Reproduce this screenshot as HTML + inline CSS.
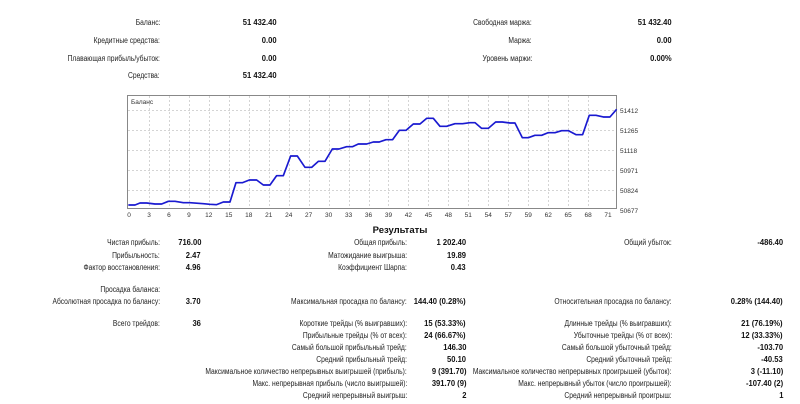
<!DOCTYPE html>
<html><head><meta charset="utf-8"><style>
body{margin:0;width:800px;height:404px;background:#fff;position:relative;overflow:hidden;font-family:"Liberation Sans","DejaVu Sans",sans-serif;font-size:8px;color:#222}
.t{position:absolute;white-space:nowrap;line-height:10px;transform:scaleX(0.84);transform-origin:right center}
.b{font-weight:bold;color:#111;transform:scaleX(0.95)}
</style></head><body>
<div class="t" style="right:640px;top:18px">Баланс:</div><div class="t b" style="right:523px;top:18px">51 432.40</div>
<div class="t" style="right:640px;top:36px">Кредитные средства:</div><div class="t b" style="right:523px;top:36px">0.00</div>
<div class="t" style="right:640px;top:54px">Плавающая прибыль/убыток:</div><div class="t b" style="right:523px;top:54px">0.00</div>
<div class="t" style="right:640px;top:71px">Средства:</div><div class="t b" style="right:523px;top:71px">51 432.40</div>
<div class="t" style="right:268px;top:18px">Свободная маржа:</div><div class="t b" style="right:128px;top:18px">51 432.40</div>
<div class="t" style="right:268px;top:36px">Маржа:</div><div class="t b" style="right:128px;top:36px">0.00</div>
<div class="t" style="right:268px;top:54px">Уровень маржи:</div><div class="t b" style="right:128px;top:54px">0.00%</div>

<svg style="position:absolute;left:0;top:0" width="800" height="230">
<rect x="127.5" y="95.5" width="489" height="113" fill="#fff" stroke="#888"/>
<g stroke="#d4d4d4" stroke-dasharray="2,2" stroke-width="1">
<line x1="128" x2="616" y1="110.5" y2="110.5"/><line x1="128" x2="616" y1="130.5" y2="130.5"/><line x1="128" x2="616" y1="150.5" y2="150.5"/><line x1="128" x2="616" y1="170.5" y2="170.5"/><line x1="128" x2="616" y1="190.5" y2="190.5"/>
</g>
<g stroke="#d4d4d4" stroke-dasharray="2,2" id="vg"></g>
<g transform="translate(120,90) scale(0.3333)">
<polyline fill="none" stroke="#1a1ad0" stroke-width="5" stroke-linejoin="round" points="25,345 45,345 60,339 80,339 105,342 125,342 145,334 165,334 190,338 210,338 250,341 270,343 290,344 310,336 330,336 348,278 368,278 388,270 410,270 430,285 450,285 470,257 490,257 512,198 532,198 555,232 575,232 595,214 615,214 637,177 657,177 680,170 698,170 715,162 740,162 760,156 778,156 798,149 818,149 838,121 858,121 880,102 900,102 920,85 940,85 960,109 980,109 1005,101 1028,101 1050,98 1065,98 1085,115 1105,115 1127,96 1147,96 1170,99 1185,99 1207,143 1225,143 1245,136 1265,136 1285,128 1305,128 1325,122 1345,122 1368,134 1388,134 1408,76 1428,76 1450,81 1470,81 1490,58"/>
</g>
<text x="131" y="104" font-size="6.5" fill="#333" font-family="Liberation Sans,sans-serif">Баланс</text>
<g font-size="6.5" fill="#333" font-family="Liberation Sans,sans-serif">
<text x="620" y="113">51412</text><text x="620" y="133">51265</text><text x="620" y="153">51118</text><text x="620" y="173">50971</text><text x="620" y="193">50824</text><text x="620" y="213">50677</text>
</g>
<g font-size="6.5" fill="#333" font-family="Liberation Sans,sans-serif" text-anchor="middle" id="xl"></g>
</svg>
<script>
var lb=[0,3,6,9,12,15,18,21,24,27,30,33,36,39,42,45,48,51,54,57,59,62,65,68,71],xl=document.getElementById('xl'),vg=document.getElementById('vg'),s='',g='';
lb.forEach(function(v,i){var x=129+i*19.96;s+='<text x="'+x.toFixed(1)+'" y="217">'+v+'</text>';if(i>0&&i<24)g+='<line x1="'+(Math.round(x)+.5)+'" x2="'+(Math.round(x)+.5)+'" y1="96" y2="208"/>';});
xl.innerHTML=s;vg.innerHTML=g;
</script>

<div class="t b" style="left:0;width:800px;text-align:center;top:226px;font-size:9.5px;transform:none">Результаты</div>
<div class="t" style="right:640px;top:238px">Чистая прибыль:</div><div class="t b" style="right:599px;top:238px">716.00</div>
<div class="t" style="right:640px;top:251px">Прибыльность:</div><div class="t b" style="right:599px;top:251px">2.47</div>
<div class="t" style="right:640px;top:263px">Фактор восстановления:</div><div class="t b" style="right:599px;top:263px">4.96</div>
<div class="t" style="right:640px;top:285px">Просадка баланса:</div>
<div class="t" style="right:640px;top:297px">Абсолютная просадка по балансу:</div><div class="t b" style="right:599px;top:297px">3.70</div>
<div class="t" style="right:640px;top:319px">Всего трейдов:</div><div class="t b" style="right:599px;top:319px">36</div>

<div class="t" style="right:393px;top:238px">Общая прибыль:</div><div class="t b" style="right:334px;top:238px">1 202.40</div>
<div class="t" style="right:393px;top:251px">Матожидание выигрыша:</div><div class="t b" style="right:334px;top:251px">19.89</div>
<div class="t" style="right:393px;top:263px">Коэффициент Шарпа:</div><div class="t b" style="right:334px;top:263px">0.43</div>
<div class="t" style="right:393px;top:297px">Максимальная просадка по балансу:</div><div class="t b" style="right:334px;top:297px">144.40 (0.28%)</div>
<div class="t" style="right:393px;top:319px">Короткие трейды (% выигравших):</div><div class="t b" style="right:334px;top:319px">15 (53.33%)</div>
<div class="t" style="right:393px;top:331px">Прибыльные трейды (% от всех):</div><div class="t b" style="right:334px;top:331px">24 (66.67%)</div>
<div class="t" style="right:393px;top:343px">Самый большой прибыльный трейд:</div><div class="t b" style="right:334px;top:343px">146.30</div>
<div class="t" style="right:393px;top:355px">Средний прибыльный трейд:</div><div class="t b" style="right:334px;top:355px">50.10</div>
<div class="t" style="right:393px;top:367px">Максимальное количество непрерывных выигрышей (прибыль):</div><div class="t b" style="right:334px;top:367px">9 (391.70)</div>
<div class="t" style="right:393px;top:379px">Макс. непрерывная прибыль (число выигрышей):</div><div class="t b" style="right:334px;top:379px">391.70 (9)</div>
<div class="t" style="right:393px;top:391px">Средний непрерывный выигрыш:</div><div class="t b" style="right:334px;top:391px">2</div>

<div class="t" style="right:128px;top:238px">Общий убыток:</div><div class="t b" style="right:17px;top:238px">-486.40</div>
<div class="t" style="right:128px;top:297px">Относительная просадка по балансу:</div><div class="t b" style="right:17px;top:297px">0.28% (144.40)</div>
<div class="t" style="right:128px;top:319px">Длинные трейды (% выигравших):</div><div class="t b" style="right:17px;top:319px">21 (76.19%)</div>
<div class="t" style="right:128px;top:331px">Убыточные трейды (% от всех):</div><div class="t b" style="right:17px;top:331px">12 (33.33%)</div>
<div class="t" style="right:128px;top:343px">Самый большой убыточный трейд:</div><div class="t b" style="right:17px;top:343px">-103.70</div>
<div class="t" style="right:128px;top:355px">Средний убыточный трейд:</div><div class="t b" style="right:17px;top:355px">-40.53</div>
<div class="t" style="right:128px;top:367px">Максимальное количество непрерывных проигрышей (убыток):</div><div class="t b" style="right:17px;top:367px">3 (-11.10)</div>
<div class="t" style="right:128px;top:379px">Макс. непрерывный убыток (число проигрышей):</div><div class="t b" style="right:17px;top:379px">-107.40 (2)</div>
<div class="t" style="right:128px;top:391px">Средний непрерывный проигрыш:</div><div class="t b" style="right:17px;top:391px">1</div>
</body></html>
